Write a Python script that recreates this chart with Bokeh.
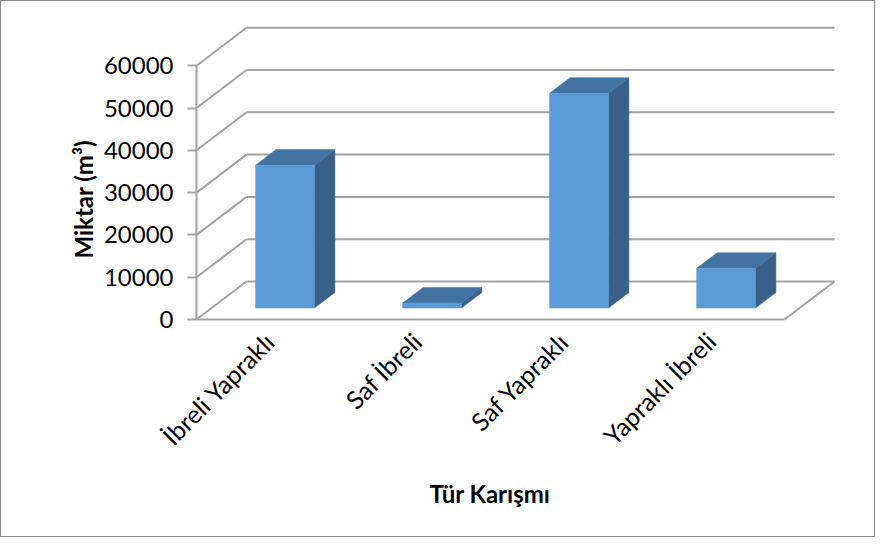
import numpy as np
from bokeh.plotting import figure
from bokeh.models import Range1d, FixedTicker, NumeralTickFormatter, Title
from bokeh.embed import file_html
from bokeh.resources import INLINE

# ---- data ----
categories = ["İbreli Yapraklı", "Saf İbreli", "Saf Yapraklı", "Yapraklı İbreli"]
values = [33800, 1200, 50800, 9400]
y_ticks = [0, 10000, 20000, 30000, 40000, 50000, 60000]
x_title = "Tür Karışmı"
y_title = "Miktar (m³)"

# ---- geometry of the oblique 3-D look ----
PX_X = 147.0            # pixels per category
PX_Y = 42.3 / 10000     # pixels per value unit
DX = 50 / PX_X          # depth shift (x) of the back wall, in data units
DY = 38 / PX_Y          # depth shift (y) of the back wall, in data units
D0 = 0.30               # depth of bar front face (fraction)
DD = 0.41               # bar depth (fraction)
BW = 0.40               # bar width (category units)

W, H = 875, 537
ML, MR, MT, MB = 193, 38, 20, 215
fw, fh = W - ML - MR, H - MT - MB
x0 = -2 / PX_X
y0 = -4 / PX_Y

p = figure(width=W, height=H, output_backend="svg", toolbar_location=None,
           x_range=Range1d(x0, x0 + fw / PX_X), y_range=Range1d(y0, y0 + fh / PX_Y),
           min_border_left=ML, min_border_right=MR, min_border_top=MT, min_border_bottom=MB)
p.background_fill_color = "white"
p.border_fill_color = "white"
p.outline_line_color = None
p.xgrid.visible = False
p.ygrid.visible = False
p.styles = {"border": "1px solid #8c8c8c"}

GRID = "#A3A3A3"
ncat = len(categories)
# gridlines on back wall and diagonals on the side wall
gx, gy = [], []
for v in y_ticks:
    gx.append([DX, ncat + DX]); gy.append([v + DY, v + DY])
    gx.append([0, DX]); gy.append([v, v + DY])
# floor front and right edges
gx.append([0, ncat]); gy.append([0, 0])
gx.append([ncat, ncat + DX]); gy.append([0, DY])
# y axis line
gx.append([0, 0]); gy.append([0, max(y_ticks)])
p.multi_line(gx, gy, line_color=GRID, line_width=2)

# bars
fx, fy, tx, ty, sx, sy = [], [], [], [], [], []
for i, v in enumerate(values):
    a = i + 0.5 - BW / 2 + D0 * DX
    b = a + BW
    bot = D0 * DY
    top = v + D0 * DY
    ddx, ddy = DD * DX, DD * DY
    fx.append([a, b, b, a]); fy.append([bot, bot, top, top])
    tx.append([a, b, b + ddx, a + ddx]); ty.append([top, top, top + ddy, top + ddy])
    sx.append([b, b + ddx, b + ddx, b]); sy.append([bot, bot + ddy, top + ddy, top])
p.patches(sx, sy, fill_color="#386088", line_color="#386088", line_width=0.5)
p.patches(tx, ty, fill_color="#4374A1", line_color="#4374A1", line_width=0.5)
p.patches(fx, fy, fill_color="#5B9BD5", line_color="#5B9BD5", line_width=0.5)

FONT = "Lato"
# y axis
ya = p.yaxis[0]
ya.ticker = FixedTicker(ticks=y_ticks)
ya.formatter = NumeralTickFormatter(format="0")
ya.axis_line_color = None
ya.major_tick_line_color = GRID
ya.major_tick_line_width = 2
ya.major_tick_in = 2
ya.major_tick_out = 7
ya.minor_tick_line_color = None
ya.major_label_standoff = 14
ya.major_label_text_font = FONT
ya.major_label_text_font_size = "24px"
ya.major_label_text_color = "black"

# x axis
xa = p.xaxis[0]
xa.ticker = FixedTicker(ticks=[i + 0.5 for i in range(ncat)])
xa.major_label_overrides = {i + 0.5: c for i, c in enumerate(categories)}
xa.axis_line_color = None
xa.major_tick_line_color = None
xa.minor_tick_line_color = None
xa.major_label_orientation = np.pi / 4
xa.major_label_standoff = 7
xa.major_label_text_font = FONT
xa.major_label_text_font_size = "25px"
xa.major_label_text_color = "black"

# axis titles, placed like the original (on the front plane / category span)
p.add_layout(Title(text=y_title, align="left", offset=65, standoff=5,
                   text_font=FONT, text_font_style="bold", text_font_size="24px",
                   text_color="black"), "left")
p.add_layout(Title(text=x_title, align="left", offset=235, standoff=24,
                   text_font=FONT, text_font_style="bold", text_font_size="24px",
                   text_color="black"), "below")

open("out.html", "w").write(file_html(p, INLINE))
